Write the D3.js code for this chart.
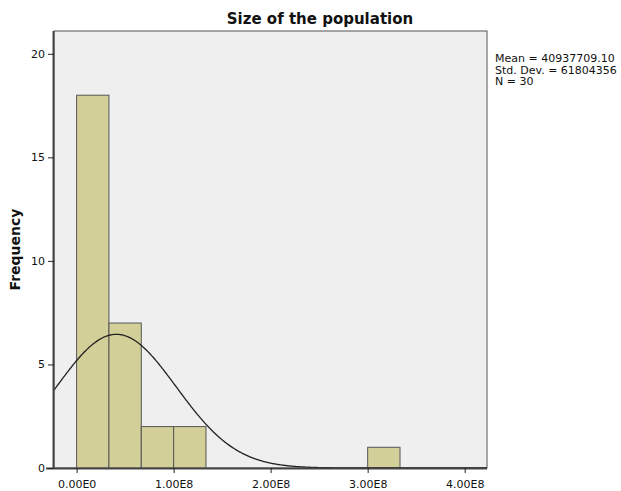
<!DOCTYPE html>
<html><head><meta charset="utf-8">
<script src="https://cdn.jsdelivr.net/npm/d3@7"></script>
<style>body{margin:0;background:#fff;} svg{display:block;} text{font-family:"DejaVu Sans",Verdana,sans-serif;}</style>
</head><body>
<svg id="c" width="621" height="491"></svg>
<script>
const title = "Size of the population";
const yLabel = "Frequency";
const binStarts = [0, 33333333.3, 66666666.7, 100000000, 133333333.3, 166666666.7, 200000000, 233333333.3, 266666666.7, 300000000];
const binWidth = 33333333.3;
const counts = [18, 7, 2, 2, 0, 0, 0, 0, 0, 1];
const xTicks = [0, 1e8, 2e8, 3e8, 4e8];
const xTickLabels = ["0.00E0", "1.00E8", "2.00E8", "3.00E8", "4.00E8"];
const yTicks = [0, 5, 10, 15, 20];
const mean = 40937709.10;
const sd = 61804356;
const n = 30;
const statsLines = ["Mean = 40937709.10", "Std. Dev. = 61804356", "N = 30"];

const svg = d3.select("#c");
const L = 54, R = 487, T = 31, B = 468;
const x = d3.scaleLinear().domain([-23300000, 423000000]).range([L, R]);
const y = d3.scaleLinear().domain([0, 21.1]).range([B, T]);

svg.append("rect").attr("x", L).attr("y", T).attr("width", R - L).attr("height", B - T)
  .attr("fill", "#efefef").attr("stroke", "#555").attr("stroke-width", 1);

const bins = binStarts.map((s, i) => ({ s, c: counts[i] })).filter(d => d.c > 0);
svg.selectAll("rect.bar").data(bins).enter().append("rect").attr("class", "bar")
  .attr("x", d => x(d.s)).attr("y", d => y(d.c))
  .attr("width", d => x(d.s + binWidth) - x(d.s)).attr("height", d => y(0) - y(d.c))
  .attr("fill", "#d3cf99").attr("stroke", "#555").attr("stroke-width", 1);

// normal curve
const xs = d3.range(0, 401).map(i => x.domain()[0] + i * (x.domain()[1] - x.domain()[0]) / 400);
const scale = n * binWidth / (sd * Math.sqrt(2 * Math.PI));
const line = d3.line().x(d => x(d)).y(d => y(scale * Math.exp(-0.5 * ((d - mean) / sd) ** 2)));
svg.append("path").datum(xs).attr("d", line).attr("fill", "none").attr("stroke", "#222").attr("stroke-width", 1.3);

// axes
const xAxis = svg.append("g").attr("transform", `translate(0,${B})`)
  .call(d3.axisBottom(x).tickValues(xTicks).tickFormat((d, i) => xTickLabels[i]).tickSize(5).tickSizeOuter(0));
const yAxis = svg.append("g").attr("transform", `translate(${L},0)`)
  .call(d3.axisLeft(y).tickValues(yTicks).tickSize(6).tickSizeOuter(0));
[xAxis, yAxis].forEach(g => {
  g.select(".domain").attr("stroke", "#444").attr("stroke-width", 2);
  g.selectAll(".tick line").attr("stroke", "#222");
  g.selectAll(".tick text").attr("font-size", 11).attr("fill", "#111").attr("font-family", "DejaVu Sans, sans-serif");
});
xAxis.select(".domain").attr("d", `M${L - 8},0.5H${R}`);
xAxis.selectAll(".tick text").attr("dy", "1.1em");
yAxis.select(".domain").attr("d", `M-0.5,${B}V${T}`);

svg.append("text").attr("x", 320).attr("y", 24).attr("text-anchor", "middle")
  .attr("font-size", 15).attr("font-weight", "bold").attr("fill", "#111").text(title);
svg.append("text").attr("transform", `translate(20,${(T + B) / 2}) rotate(-90)`).attr("text-anchor", "middle")
  .attr("font-size", 14).attr("font-weight", "bold").attr("fill", "#111").text(yLabel);

svg.append("g").selectAll("text").data(statsLines).enter().append("text")
  .attr("x", 495).attr("y", (d, i) => 62 + i * 11.5).attr("font-size", 11).attr("fill", "#111").text(d => d);
</script>
</body></html>
